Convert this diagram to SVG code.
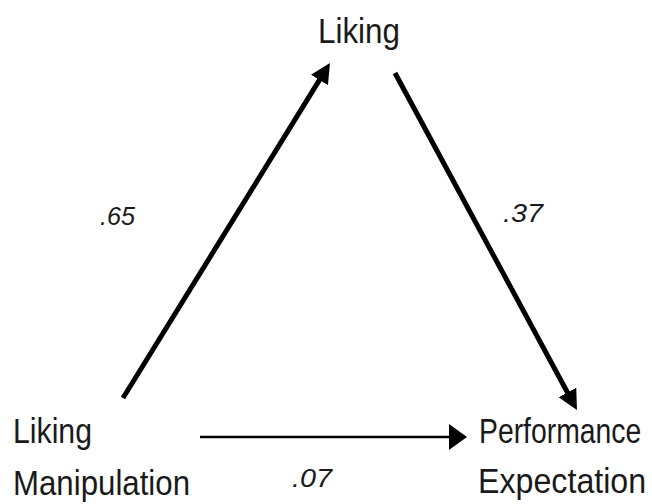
<svg xmlns="http://www.w3.org/2000/svg" width="652" height="504" viewBox="0 0 652 504">
  <style>
    .lbl { font-family: "Liberation Sans", Arial, sans-serif; font-size: 35px; fill: #1a1a1a; }
    .num { font-family: "Liberation Sans", Arial, sans-serif; font-size: 26px; fill: #1a1a1a; font-style: italic; }
    .thick { stroke: #000; stroke-width: 5; fill: none; }
    .thin { stroke: #000; stroke-width: 2.5; fill: none; }
  </style>
  <defs>
    <marker id="headBig" markerUnits="userSpaceOnUse" markerWidth="22" markerHeight="22" refX="6" refY="10" orient="auto" viewBox="0 0 22 22">
      <path d="M0,0 L20,10 L0,20 Z" fill="#000"/>
    </marker>
    <marker id="headFlat" markerUnits="userSpaceOnUse" markerWidth="20" markerHeight="28" refX="11" refY="13" orient="auto" viewBox="0 0 20 28">
      <path d="M0,0 L18,13 L0,26 Z" fill="#000"/>
    </marker>
  </defs>
  <rect width="652" height="504" fill="#fff"/>
  <g id="connectors">
    <line class="thick" x1="123" y1="398" x2="322.6" y2="74.9" marker-end="url(#headBig)"/>
    <line class="thick" x1="395" y1="73" x2="570.3" y2="397.7" marker-end="url(#headBig)"/>
    <line class="thin" x1="200" y1="437" x2="460" y2="437" marker-end="url(#headFlat)"/>
    <text class="num" x="100" y="225" textLength="35" lengthAdjust="spacingAndGlyphs">.65</text>
    <text class="num" x="503" y="222" textLength="40" lengthAdjust="spacingAndGlyphs">.37</text>
    <text class="num" x="292" y="487" textLength="40" lengthAdjust="spacingAndGlyphs">.07</text>
  </g>
  <g id="node-liking">
    <text class="lbl" x="318" y="43" textLength="82" lengthAdjust="spacingAndGlyphs">Liking</text>
  </g>
  <g id="node-manipulation">
    <text class="lbl" x="13" y="443" textLength="79" lengthAdjust="spacingAndGlyphs">Liking</text>
    <text class="lbl" x="13" y="495" textLength="177" lengthAdjust="spacingAndGlyphs">Manipulation</text>
  </g>
  <g id="node-performance">
    <text class="lbl" transform="translate(479,443) scale(0.81,1)">Performance</text>
    <text class="lbl" transform="translate(478,493) scale(0.92,1)">Expectation</text>
  </g>
</svg>
